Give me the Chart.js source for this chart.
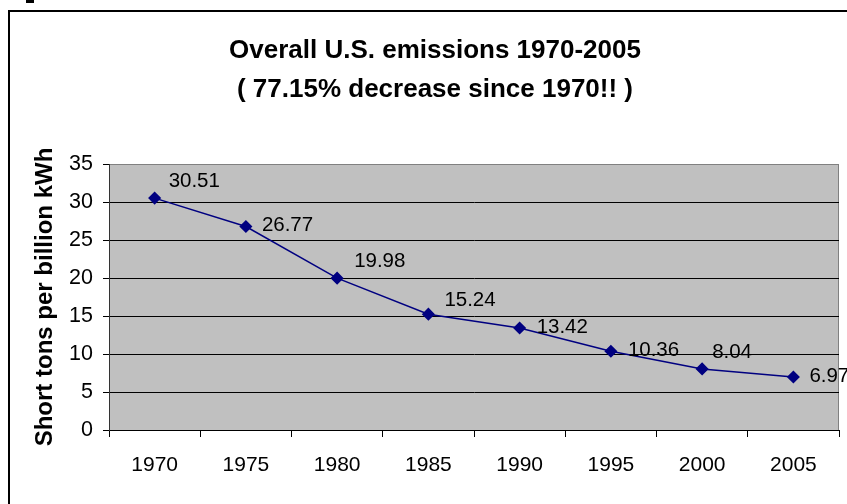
<!DOCTYPE html>
<html>
<head>
<meta charset="utf-8">
<script src="https://cdn.jsdelivr.net/npm/chart.js@4.4.1/dist/chart.umd.min.js"></script>
<style>
  html, body { margin: 0; padding: 0; background: #fff; }
  #wrap { width: 847px; height: 504px; }
</style>
</head>
<body>
<div id="wrap"><canvas id="emisiChart" width="847" height="504"></canvas></div>
<script>
// Data grafik
const years = ['1970', '1975', '1980', '1985', '1990', '1995', '2000', '2005'];
const emissions = [30.51, 26.77, 19.98, 15.24, 13.42, 10.36, 8.04, 6.97];
const titleLines = ['Overall U.S. emissions 1970-2005', '( 77.15% decrease since 1970!! )'];
const yAxisTitle = 'Short tons per billion kWh';

// Geser label data (relatif ke titik)
const labelDx = [14, 16, 17, 16, 17, 17, 10, 16];
const labelDy = [-17, -1, -17, -14, -1, -1, -17, -1];

const FONT = '"Liberation Sans", Arial, sans-serif';

// Latar belakang, bingkai dan area plot abu-abu
const bgPlugin = {
    id: 'bgPlugin',
    beforeDraw(chart) {
        const c = chart.ctx;
        const a = chart.chartArea;
        c.save();
        c.fillStyle = '#fff';
        c.fillRect(0, 0, chart.width, chart.height);
        c.fillStyle = '#000';
        c.fillRect(26, 0, 8, 3);
        c.strokeStyle = '#000';
        c.lineWidth = 2;
        c.strokeRect(9, 11, 900, 600);
        c.fillStyle = '#c0c0c0';
        c.fillRect(a.left, a.top, a.right - a.left, a.bottom - a.top);
        c.strokeStyle = '#808080';
        c.lineWidth = 1;
        c.strokeRect(a.left + 0.5, a.top + 0.5, a.right - a.left - 1, a.bottom - a.top);
        c.restore();
    }
};

// Label nilai di samping setiap titik
const valuePlugin = {
    id: 'valuePlugin',
    afterDatasetsDraw(chart) {
        const c = chart.ctx;
        const meta = chart.getDatasetMeta(0);
        c.save();
        c.font = '20.5px ' + FONT;
        c.fillStyle = '#000';
        c.textAlign = 'left';
        c.textBaseline = 'middle';
        meta.data.forEach((pt, i) => {
            c.fillText(emissions[i].toFixed(2), pt.x + labelDx[i], pt.y + labelDy[i]);
        });
        c.restore();
    }
};

const ctx = document.getElementById('emisiChart').getContext('2d');
const emisiChart = new Chart(ctx, {
    type: 'line',
    data: {
        labels: years,
        datasets: [{
            data: emissions,
            borderColor: '#000080',
            borderWidth: 1.5,
            backgroundColor: '#000080',
            pointStyle: 'rectRot',
            pointRadius: 5.5,
            pointBackgroundColor: '#000080',
            pointBorderColor: '#000080',
            tension: 0,
            fill: false
        }]
    },
    options: {
        responsive: false,
        animation: false,
        layout: { padding: { left: 31, right: 8, top: 0, bottom: 0 } },
        plugins: {
            legend: { display: false },
            tooltip: { enabled: false },
            title: {
                display: true,
                text: titleLines,
                color: '#000',
                font: { family: FONT, size: 26, weight: 'bold', lineHeight: 1.5 },
                padding: { top: 31, bottom: 55 }
            }
        },
        scales: {
            x: {
                offset: true,
                grid: {
                    offset: true,
                    drawOnChartArea: false,
                    tickLength: 7,
                    color: '#000'
                },
                border: { color: '#000', width: 1 },
                ticks: {
                    color: '#000',
                    font: { family: FONT, size: 21 },
                    padding: 16,
                    maxRotation: 0
                },
                afterFit(scale) { scale.height = 74; }
            },
            y: {
                min: 0,
                max: 35,
                ticks: {
                    stepSize: 5,
                    color: '#000',
                    font: { family: FONT, size: 21.5 },
                    padding: 10
                },
                grid: {
                    tickLength: 6,
                    color: (c) => (c.tick && c.tick.value === 35 ? '#808080' : '#000'),
                    tickColor: '#000'
                },
                border: { color: '#333', width: 1 },
                title: {
                    display: true,
                    text: yAxisTitle,
                    color: '#000',
                    font: { family: FONT, size: 24, weight: 'bold', lineHeight: 1.2 },
                    padding: { top: 0, bottom: 0 }
                },
                afterFit(scale) { scale.width = 78; }
            }
        }
    },
    plugins: [bgPlugin, valuePlugin]
});
</script>
</body>
</html>
